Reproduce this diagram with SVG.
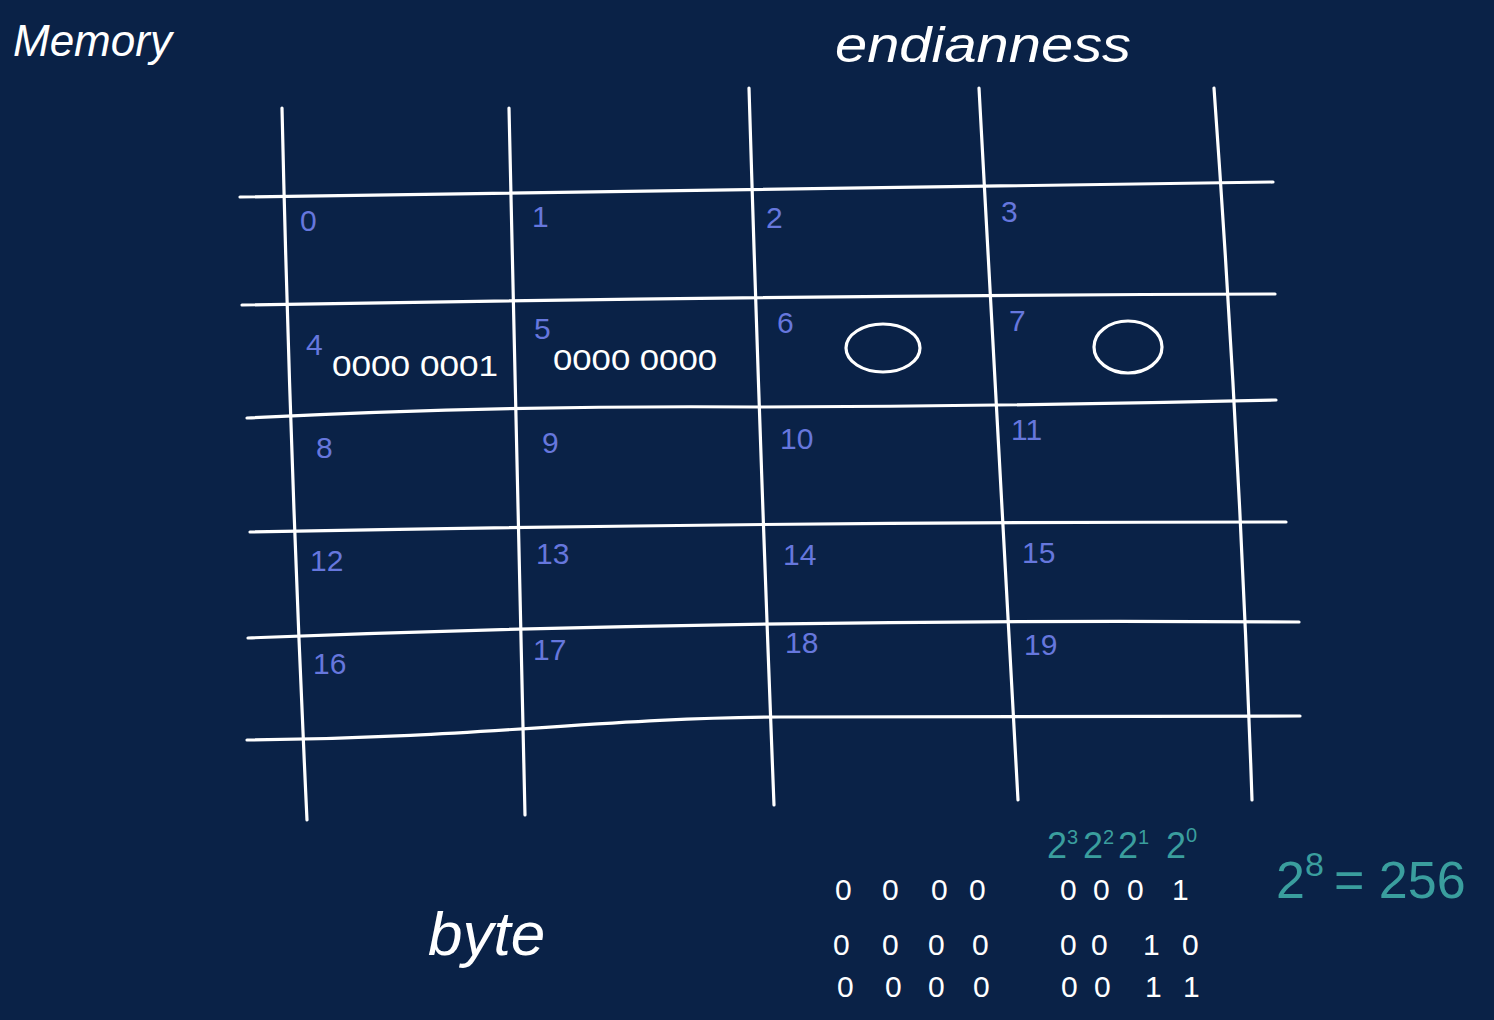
<svg xmlns="http://www.w3.org/2000/svg" width="1494" height="1020" viewBox="0 0 1494 1020">
<style>
.g{fill:none;stroke:#ffffff;stroke-width:3.2;stroke-linecap:round;stroke-linejoin:round}
.n{font-family:"Liberation Sans",Arial,sans-serif;font-size:30px;fill:#6677dd}
.w{font-family:"Liberation Sans",Arial,sans-serif;fill:#ffffff}
.b{font-family:"Liberation Sans",Arial,sans-serif;font-size:30px;fill:#ffffff}
.t{font-family:"Liberation Sans",Arial,sans-serif;fill:#3a9e9e}
</style>
<rect width="1494" height="1020" fill="#0a2247"/>
<g id="title"><text class="w" x="13" y="56" font-size="44" font-style="italic">Memory</text></g>
<g id="endianness"><text class="w" x="835" y="62" font-size="50" font-style="italic" textLength="296" lengthAdjust="spacingAndGlyphs">endianness</text></g>
<g id="connectors">
<path class="g" d="M282,108 Q290,460 307,820"/>
<path class="g" d="M509,108 Q518,460 525,815"/>
<path class="g" d="M749,88 Q760,450 774,805"/>
<path class="g" d="M979,88 Q1000,450 1018,800"/>
<path class="g" d="M1214,88 Q1240,450 1252,800"/>
<path class="g" d="M240,197 Q760,188 1273,182"/>
<path class="g" d="M242,305 Q760,296 1275,294"/>
<path class="g" d="M247,418 Q500,405 760,407 Q1020,406 1276,400"/>
<path class="g" d="M250,532 Q760,522 1286,522"/>
<path class="g" d="M248,638 Q760,618 1299,622"/>
<path class="g" d="M247,740 C480,738 600,718 780,717 L1300,716"/>
</g>
<g id="cells">
<text class="n" x="300" y="231">0</text>
<text class="n" x="532" y="227">1</text>
<text class="n" x="766" y="228">2</text>
<text class="n" x="1001" y="222">3</text>
<text class="n" x="306" y="355" font-size="38">4</text>
<text class="n" x="534" y="339">5</text>
<text class="n" x="777" y="333">6</text>
<text class="n" x="1009" y="331">7</text>
<text class="n" x="316" y="458">8</text>
<text class="n" x="542" y="453">9</text>
<text class="n" x="780" y="449">10</text>
<text class="n" x="1011" y="440">11</text>
<text class="n" x="310" y="571">12</text>
<text class="n" x="536" y="564">13</text>
<text class="n" x="783" y="565">14</text>
<text class="n" x="1022" y="563">15</text>
<text class="n" x="313" y="674">16</text>
<text class="n" x="533" y="660">17</text>
<text class="n" x="785" y="653">18</text>
<text class="n" x="1024" y="655">19</text>
<text class="b" x="332" y="376" textLength="166" lengthAdjust="spacingAndGlyphs">0000 0001</text>
<text class="b" x="553" y="370" textLength="164" lengthAdjust="spacingAndGlyphs">0000 0000</text>
<ellipse class="g" cx="883" cy="348" rx="37" ry="24"/>
<ellipse class="g" cx="1128" cy="347" rx="34" ry="26"/>
</g>
<g id="byte"><text class="w" x="428" y="955" font-size="62" font-style="italic">byte</text></g>
<g id="binary">
<text class="b" font-size="36" x="835 882 931 969 1060 1093 1127 1172" y="900">00000001</text>
<text class="b" font-size="36" x="833 882 928 972 1060 1091 1143 1182" y="955">00000010</text>
<text class="b" font-size="32" x="837 885 928 973 1061 1094 1145 1183" y="997">00000011</text>
</g>
<g id="powers">
<text class="t" font-size="36" y="858"><tspan x="1047">2</tspan><tspan dy="-14" font-size="20">3</tspan><tspan x="1083" dy="14">2</tspan><tspan dy="-14" font-size="20">2</tspan><tspan x="1118" dy="14">2</tspan><tspan dy="-14" font-size="20">1</tspan><tspan x="1166" dy="14">2</tspan><tspan dy="-16" font-size="20">0</tspan></text>
<text class="t" font-size="52" y="898"><tspan x="1276">2</tspan><tspan dy="-22" font-size="34">8</tspan><tspan x="1334" dy="22">= 256</tspan></text>
</g>
</svg>
